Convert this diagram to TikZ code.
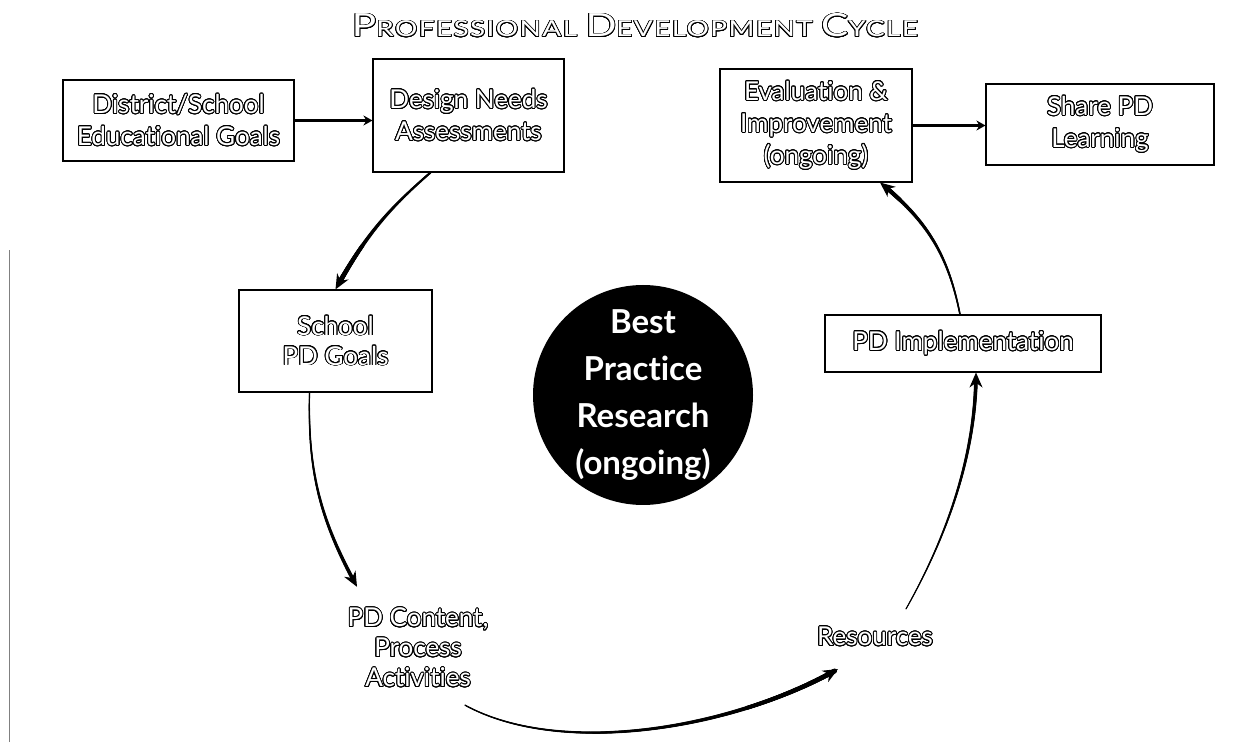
\documentclass[tikz,border=0pt]{standalone}
\usepackage{fontspec}
\setmainfont{Lato}[Ligatures={NoCommon},RawFeature={-liga;-calt}]
\newfontfamily\titlefont[LetterSpace=5,Ligatures={NoCommon}]{Lato}
\usepackage{contour}
\usetikzlibrary{arrows.meta,decorations.markings}
\contourlength{0.9pt}
\contournumber{24}
\newcommand\ol[1]{\contour{black}{#1}}
\newcommand\bigc[1]{{\fontsize{32}{32}\selectfont #1}}
\tikzset{
  box/.style={draw=black, line width=1.1pt, fill=white, text=white, align=center,
    font=\fontsize{26}{32}\selectfont, inner sep=0pt},
  lbl/.style={text=white, align=center, font=\fontsize{26}{30}\selectfont, inner sep=0pt},
  flat/.style={draw=black, line width=3.2pt, -{Stealth[length=9pt,width=10pt]}},
  taper/.style 2 args={draw=black, line width=#1pt, -{Stealth[length=15pt,width=13pt]},
    postaction={decorate},
    decoration={markings, mark=between positions 0 and -10pt step 0.5pt with {%
      \pgfmathsetmacro\tr{(#1+(#2-#1)*\pgfkeysvalueof{/pgf/decoration/mark info/distance from start}/\pgfdecoratedpathlength)/2}%
      \fill[black] (0,0) circle (\tr pt);}}}
}
\begin{document}
\begin{tikzpicture}[x=1pt,y=1pt]
\useasboundingbox (0,0) rectangle (1248,742);
\fill[white] (0,0) rectangle (1248,742);
\draw[gray, line width=0.8pt] (9,0) -- (9,492);

\node[text=white, anchor=base, inner sep=0pt, font=\titlefont\fontsize{22}{22}\selectfont] (title) at (635,705)
  {\scalebox{1.27}[1]{\contourlength{0.6pt}\contour{black}{\bigc{P}ROFESSIONAL \bigc{D}EVELOPMENT \bigc{C}YCLE}}};

\node[box, minimum width=231pt, minimum height=81pt] (b1) at (178.5,621.5) {\ol{District/School}\\\ol{Educational Goals}};
\node[box, minimum width=191pt, minimum height=113pt] (b2) at (468.5,626.5) {\ol{Design Needs}\\\ol{Assessments}};
\node[box, minimum width=192pt, minimum height=113pt] (b3) at (816,616.5) {\ol{Evaluation \&}\\\ol{Improvement}\\\ol{(ongoing)}};
\node[box, minimum width=228pt, minimum height=81pt] (b4) at (1100,617.5) {\ol{Share PD}\\\ol{Learning}};
\node[box, minimum width=193pt, minimum height=102pt, font=\fontsize{26}{30}\selectfont] (school) at (335.5,401) {\ol{School}\\\ol{PD Goals}};
\node[box, minimum width=276pt, minimum height=57pt] (impl) at (963,398.5) {\ol{PD Implementation}};

\node[circle, fill=black, minimum size=220pt, inner sep=0pt, text=white, align=center,
  font=\bfseries\fontsize{33}{47}\selectfont] (bp) at (643,347) {Best\\Practice\\Research\\(ongoing)};

\node[lbl] (content) at (418,94) {\ol{PD Content,}\\\ol{Process}\\\ol{Activities}};
\node[lbl] (res) at (875,105) {\ol{Resources}};

\draw[flat] (b1.east) -- (b1.east -| b2.west);
\draw[flat] (b3.east) -- (b3.east -| b4.west);

\draw[taper={2}{5}] ([xshift=-38pt]b2.south) to[bend right=10] (school.north);
\draw[taper={1.2}{4}] ([xshift=-26pt]school.south) to[bend right=15] ([shift={(-61pt,21pt)}]content.north);
\draw[taper={1.2}{5}] ([shift={(47pt,-17pt)}]content.south) .. controls (560,-15) and (730,12) .. ([shift={(-37pt,-22pt)}]res.south);
\draw[taper={1}{4}] ([shift={(31pt,18pt)}]res.north) .. controls (955,220) and (976,300) .. ([xshift=13pt]impl.south);
\draw[taper={1.5}{4.5}] ([xshift=-3pt]impl.north) to[bend right=20] ([xshift=64pt]b3.south);
\end{tikzpicture}
\end{document}
